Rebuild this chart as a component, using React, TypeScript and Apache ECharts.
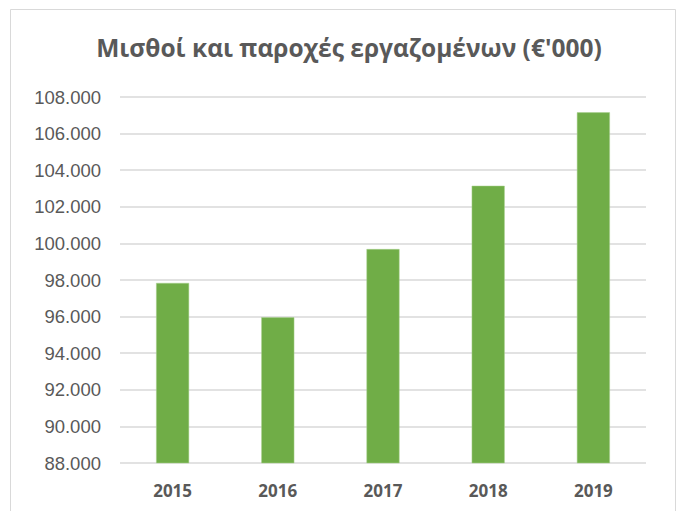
import React, { useEffect, useRef } from "react";
import * as echarts from "echarts";

const years = ["2015", "2016", "2017", "2018", "2019"];
const values = [97.84, 95.96, 99.69, 103.15, 107.16];
const yMin = 88;
const yMax = 108;
const yStep = 2;
const titleText = "Μισθοί και παροχές εργαζομένων (€'000)";

export default function App() {
  const ref = useRef<HTMLDivElement>(null);
  useEffect(() => {
    const chart = echarts.init(ref.current!, null, { renderer: "svg" });
    chart.setOption({
      animation: false,
      backgroundColor: "#ffffff",
      title: {
        text: titleText,
        left: 344,
        textAlign: "center",
        top: 30,
        textStyle: {
          fontFamily: "Open Sans",
          fontWeight: "bold",
          fontSize: 24.5,
          color: "#595959",
        },
      },
      graphic: [
        {
          type: "rect",
          shape: { x: 10.5, y: 9.5, width: 665, height: 520 },
          style: { fill: "none", stroke: "#d9d9d9", lineWidth: 1 },
          silent: true,
        },
      ],
      grid: { left: 120, right: 34, top: 97, bottom: 48 },
      xAxis: {
        type: "category",
        data: years,
        axisLine: { show: false },
        axisTick: { show: false },
        axisLabel: {
          fontFamily: "Open Sans",
          fontWeight: "bold",
          fontSize: 17,
          color: "#595959",
          margin: 19,
        },
      },
      yAxis: {
        type: "value",
        min: yMin,
        max: yMax,
        interval: yStep,
        axisLine: { show: false },
        axisTick: { show: false },
        splitLine: { lineStyle: { color: "#d9d9d9", width: 1.5 } },
        axisLabel: {
          fontFamily: "Liberation Sans",
          fontSize: 18.5,
          color: "#595959",
          margin: 19,
          formatter: (v: number) => v.toFixed(3),
        },
      },
      series: [
        {
          type: "bar",
          data: values,
          barWidth: 33,
          itemStyle: { color: "#70ad47", borderColor: "#a9d18e", borderWidth: 0.5 },
        },
      ],
    });
    return () => chart.dispose();
  }, []);
  return (
    <div
      ref={ref}
      style={{ position: "fixed", left: 0, top: 0, width: 680, height: 511 }}
    />
  );
}
